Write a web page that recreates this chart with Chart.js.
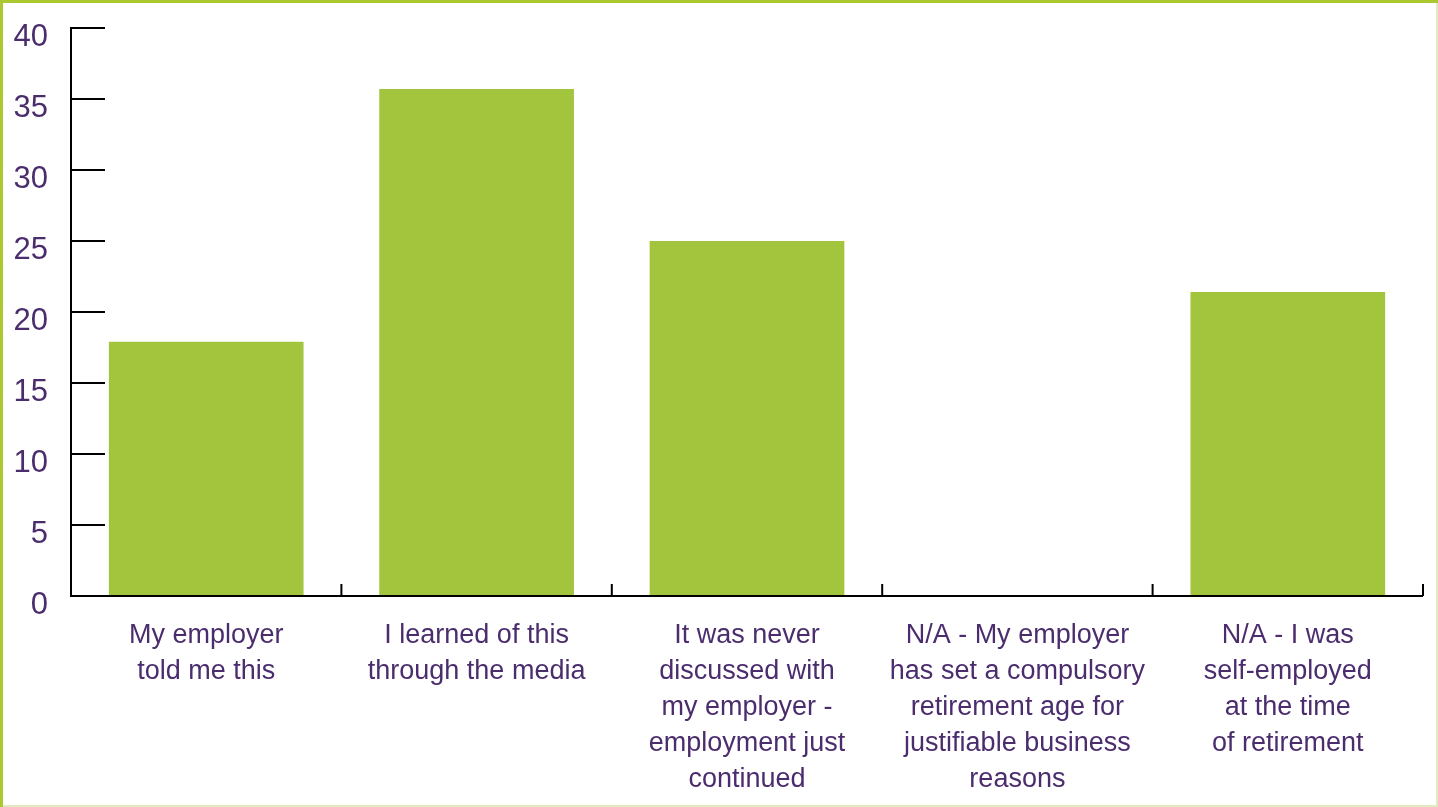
<!DOCTYPE html>
<html>
<head>
<meta charset="utf-8">
<script src="https://cdn.jsdelivr.net/npm/chart.js@4"></script>
<style>
  html, body { margin: 0; padding: 0; background: #fff; }
  #wrap { width: 1438px; height: 807px; position: relative; }
</style>
</head>
<body>
<div id="wrap"><canvas id="grafico" width="1438" height="807"></canvas></div>
<script>
// categorias e valores do grafico
const categorias = [
  ['My employer', 'told me this'],
  ['I learned of this', 'through the media'],
  ['It was never', 'discussed with', 'my employer -', 'employment just', 'continued'],
  ['N/A - My employer', 'has set a compulsory', 'retirement age for', 'justifiable business', 'reasons'],
  ['N/A - I was', 'self-employed', 'at the time', 'of retirement']
];
const valores = [17.9, 35.7, 25.0, 0, 21.4];
const ticksY = [0, 5, 10, 15, 20, 25, 30, 35, 40];

const verde = '#a3c43d';
const roxo = '#4b2d6e';

// moldura, eixos e tracinhos desenhados a mao
const eixosPlugin = {
  id: 'eixos',
  beforeDraw(chart) {
    const c = chart.ctx;
    c.save();
    c.fillStyle = '#e2ebbd';
    c.fillRect(chart.width - 2, 0, 2, chart.height);
    c.fillRect(0, chart.height - 2, chart.width, 2);
    c.fillStyle = '#a9c92e';
    c.fillRect(0, 0, chart.width, 3);
    c.fillRect(0, 0, 3, chart.height);
    c.restore();
  },
  afterDatasetsDraw(chart) {
    const c = chart.ctx;
    const x = chart.scales.x;
    const y = chart.scales.y;
    const base = y.getPixelForValue(0);
    const topo = y.getPixelForValue(40);
    c.save();
    c.strokeStyle = '#000';
    c.lineWidth = 2;
    c.beginPath();
    c.moveTo(x.left, topo - 1);
    c.lineTo(x.left, base);
    c.lineTo(x.right, base);
    ticksY.forEach(v => {
      const py = y.getPixelForValue(v);
      c.moveTo(x.left, py);
      c.lineTo(x.left + 34, py);
    });
    for (let i = 0; i <= categorias.length; i++) {
      const px = x.getPixelForValue(i - 0.5);
      c.moveTo(px, base);
      c.lineTo(px, base - 12);
    }
    c.stroke();
    c.restore();
  }
};

new Chart(document.getElementById('grafico'), {
  type: 'bar',
  data: {
    labels: categorias,
    datasets: [{
      data: valores,
      backgroundColor: verde,
      borderWidth: 0,
      categoryPercentage: 1,
      barPercentage: 0.72
    }]
  },
  options: {
    responsive: false,
    animation: false,
    layout: { padding: { top: 28, right: 15, left: 0, bottom: 0 } },
    plugins: { legend: { display: false }, tooltip: { enabled: false } },
    scales: {
      x: {
        grid: { display: false },
        border: { display: false },
        afterFit: s => { s.height = 211; s.paddingLeft = 0; s.paddingRight = 0; },
        ticks: {
          color: roxo,
          maxRotation: 0,
          autoSkip: false,
          padding: 14,
          font: { family: 'Liberation Sans, Arial, sans-serif', size: 27, lineHeight: 1.333 }
        }
      },
      y: {
        min: 0,
        max: 40,
        grid: { display: false },
        border: { display: false },
        afterFit: s => { s.width = 71; s.paddingTop = 0; s.paddingBottom = 0; },
        afterBuildTicks: s => { s.ticks = ticksY.map(v => ({ value: v })); },
        ticks: {
          color: roxo,
          padding: 15,
          labelOffset: 9,
          font: { family: 'Liberation Sans, Arial, sans-serif', size: 31 }
        }
      }
    }
  },
  plugins: [eixosPlugin]
});
</script>
</body>
</html>
